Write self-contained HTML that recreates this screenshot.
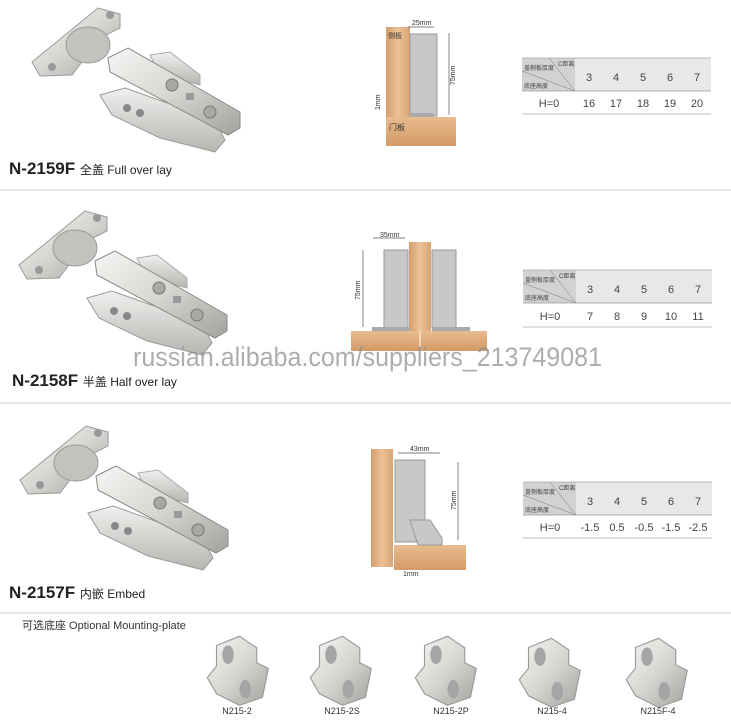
<!DOCTYPE html>
<html><head><meta charset="utf-8"><style>
html,body{margin:0;padding:0;background:#fff;}
svg{display:block;}
text{font-family:"Liberation Sans","Noto Sans CJK SC",sans-serif;}
</style></head><body>
<svg width="731" height="720" viewBox="0 0 731 720" xmlns="http://www.w3.org/2000/svg">
<defs>
<linearGradient id="met" x1="0" y1="0" x2="1" y2="1">
<stop offset="0" stop-color="#f6f6f4"/><stop offset="0.5" stop-color="#d6d6d3"/><stop offset="1" stop-color="#a2a29f"/></linearGradient>
<linearGradient id="met2" x1="0" y1="0" x2="0" y2="1">
<stop offset="0" stop-color="#f0f0ee"/><stop offset="1" stop-color="#b5b5b2"/></linearGradient>
<linearGradient id="wood" x1="0" y1="0" x2="1" y2="0">
<stop offset="0" stop-color="#d59d6a"/><stop offset="0.5" stop-color="#ecc398"/><stop offset="1" stop-color="#d8a373"/></linearGradient>
<linearGradient id="woodh" x1="0" y1="0" x2="0" y2="1">
<stop offset="0" stop-color="#e8bb8e"/><stop offset="1" stop-color="#d39a66"/></linearGradient>
<g id="hinge">
<polygon points="100,95 125,88 215,120 225,140 215,152 160,138 112,115" fill="url(#met2)" stroke="#9a9a96" stroke-width="1"/>
<circle cx="127" cy="108" r="4" fill="#888"/><circle cx="140" cy="113" r="4" fill="#888"/>
<polygon points="150,55 170,52 200,75 200,85 160,75" fill="url(#met2)" stroke="#aaa" stroke-width="1"/>
<polygon points="32,62 98,8 120,14 120,28 100,38 72,75 40,76" fill="url(#met)" stroke="#9a9a96" stroke-width="1"/>
<ellipse cx="88" cy="45" rx="22" ry="18" fill="#c2c2bf" stroke="#999"/>
<circle cx="52" cy="67" r="4" fill="#999"/><circle cx="110" cy="15" r="4" fill="#999"/>
<polygon points="108,58 128,48 240,112 240,128 228,135 110,72" fill="url(#met)" stroke="#8a8a86" stroke-width="1"/>
<circle cx="172" cy="85" r="6" fill="#a8a8a5" stroke="#777"/><circle cx="210" cy="112" r="6" fill="#a8a8a5" stroke="#777"/>
<rect x="186" y="93" width="8" height="7" fill="#999"/>
</g>
<g id="plate">
<polygon points="10,10 30,2 45,12 45,25 55,30 50,55 30,62 10,52 2,38 10,28" fill="url(#met)" stroke="#9a9a96"/>
<ellipse cx="20" cy="18" rx="5" ry="8" fill="#a5a5a5"/><ellipse cx="35" cy="48" rx="5" ry="8" fill="#a5a5a5"/>
</g>
</defs>

<rect x="0" y="189" width="731" height="2" fill="#e6e6e6"/>
<rect x="0" y="402" width="731" height="2" fill="#e6e6e6"/>
<rect x="0" y="612" width="731" height="2" fill="#e6e6e6"/>

<use href="#hinge" x="0" y="0"/>
<use href="#hinge" x="-13" y="203"/>
<use href="#hinge" x="-12" y="418"/>

<text x="9" y="174" font-size="17" font-weight="bold" fill="#222">N-2159F <tspan font-size="12" font-weight="normal">全盖 Full over lay</tspan></text>
<text x="12" y="386" font-size="17" font-weight="bold" fill="#222">N-2158F <tspan font-size="12" font-weight="normal">半盖 Half over lay</tspan></text>
<text x="9" y="598" font-size="17" font-weight="bold" fill="#222">N-2157F <tspan font-size="12" font-weight="normal">内嵌 Embed</tspan></text>

<!-- diagram 1 -->
<rect x="386" y="27" width="24" height="90" fill="url(#wood)"/>
<rect x="386" y="117" width="70" height="29" fill="url(#woodh)"/>
<rect x="410" y="34" width="27" height="82" fill="#c8c8c8" stroke="#999"/>
<rect x="410" y="113" width="24" height="4" fill="#aaa"/>
<text x="388" y="38" font-size="7" fill="#333">侧板</text>
<text x="389" y="130" font-size="8" fill="#333">门板</text>
<line x1="408" y1="27" x2="434" y2="27" stroke="#555" stroke-width="0.7"/>
<text x="412" y="25" font-size="7" fill="#333">25mm</text>
<line x1="449" y1="33" x2="449" y2="115" stroke="#555" stroke-width="0.7"/>
<text x="455" y="85" font-size="7" fill="#333" transform="rotate(-90 455 85)">75mm</text>
<text x="380" y="110" font-size="7" fill="#333" transform="rotate(-90 380 110)">1mm</text>

<!-- diagram 2 -->
<rect x="409" y="242" width="22" height="90" fill="url(#wood)"/>
<rect x="351" y="331" width="83" height="20" fill="url(#woodh)"/>
<rect x="420" y="331" width="67" height="20" fill="url(#woodh)"/>
<line x1="420" y1="331" x2="420" y2="351" stroke="#fff"/>
<rect x="384" y="250" width="24" height="78" fill="#c8c8c8" stroke="#999"/>
<rect x="432" y="250" width="24" height="78" fill="#c8c8c8" stroke="#999"/>
<rect x="372" y="327" width="38" height="4" fill="#aaa"/>
<rect x="432" y="327" width="38" height="4" fill="#aaa"/>
<line x1="373" y1="238" x2="405" y2="238" stroke="#555" stroke-width="0.7"/>
<text x="380" y="237" font-size="7" fill="#333">35mm</text>
<line x1="363" y1="250" x2="363" y2="327" stroke="#555" stroke-width="0.7"/>
<text x="360" y="300" font-size="7" fill="#333" transform="rotate(-90 360 300)">75mm</text>

<!-- diagram 3 -->
<rect x="371" y="449" width="22" height="118" fill="url(#wood)"/>
<rect x="394" y="545" width="72" height="25" fill="url(#woodh)"/>
<rect x="395" y="460" width="30" height="82" fill="#c8c8c8" stroke="#999"/>
<polygon points="410,520 430,520 442,538 442,545 418,545" fill="#c8c8c8" stroke="#999"/>
<line x1="398" y1="453" x2="440" y2="453" stroke="#555" stroke-width="0.7"/>
<text x="410" y="451" font-size="7" fill="#333">43mm</text>
<line x1="458" y1="462" x2="458" y2="540" stroke="#555" stroke-width="0.7"/>
<text x="456" y="510" font-size="7" fill="#333" transform="rotate(-90 456 510)">75mm</text>
<text x="403" y="576" font-size="7" fill="#333">1mm</text>

<!-- tables -->
<g>
<rect x="522" y="58" width="189" height="33" fill="#e8e8e8"/>
<rect x="522" y="58" width="53" height="33" fill="#d2d2d2"/>
<line x1="522" y1="58" x2="711" y2="58" stroke="#aaa" stroke-width="0.7"/>
<line x1="522" y1="91" x2="711" y2="91" stroke="#999" stroke-width="0.8"/>
<line x1="522" y1="114" x2="711" y2="114" stroke="#aaa" stroke-width="0.7"/>
<line x1="549" y1="58" x2="575" y2="91" stroke="#777" stroke-width="0.5"/>
<line x1="522" y1="71" x2="575" y2="91" stroke="#777" stroke-width="0.5"/>
<text x="524" y="88" font-size="6" fill="#444">底座高度</text>
<text x="524" y="70" font-size="6" fill="#444">盖侧板厚度</text>
<text x="558" y="66" font-size="6" fill="#444">C距离</text>
<g font-size="11" fill="#444" text-anchor="middle"><text x="589" y="81">3</text><text x="616" y="81">4</text><text x="643" y="81">5</text><text x="670" y="81">6</text><text x="697" y="81">7</text>
<text x="549" y="107">H=0</text><text x="589" y="107">16</text><text x="616" y="107">17</text><text x="643" y="107">18</text><text x="670" y="107">19</text><text x="697" y="107">20</text></g>
</g>
<g transform="translate(1,212)">
<rect x="522" y="58" width="189" height="33" fill="#e8e8e8"/>
<rect x="522" y="58" width="53" height="33" fill="#d2d2d2"/>
<line x1="522" y1="58" x2="711" y2="58" stroke="#aaa" stroke-width="0.7"/>
<line x1="522" y1="91" x2="711" y2="91" stroke="#999" stroke-width="0.8"/>
<line x1="522" y1="115" x2="711" y2="115" stroke="#aaa" stroke-width="0.7"/>
<line x1="549" y1="58" x2="575" y2="91" stroke="#777" stroke-width="0.5"/>
<line x1="522" y1="71" x2="575" y2="91" stroke="#777" stroke-width="0.5"/>
<text x="524" y="88" font-size="6" fill="#444">底座高度</text>
<text x="524" y="70" font-size="6" fill="#444">盖侧板厚度</text>
<text x="558" y="66" font-size="6" fill="#444">C距离</text>
<g font-size="11" fill="#444" text-anchor="middle"><text x="589" y="81">3</text><text x="616" y="81">4</text><text x="643" y="81">5</text><text x="670" y="81">6</text><text x="697" y="81">7</text>
<text x="549" y="108">H=0</text><text x="589" y="108">7</text><text x="616" y="108">8</text><text x="643" y="108">9</text><text x="670" y="108">10</text><text x="697" y="108">11</text></g>
</g>
<g transform="translate(1,424)">
<rect x="522" y="58" width="189" height="33" fill="#e8e8e8"/>
<rect x="522" y="58" width="53" height="33" fill="#d2d2d2"/>
<line x1="522" y1="58" x2="711" y2="58" stroke="#aaa" stroke-width="0.7"/>
<line x1="522" y1="91" x2="711" y2="91" stroke="#999" stroke-width="0.8"/>
<line x1="522" y1="114" x2="711" y2="114" stroke="#aaa" stroke-width="0.7"/>
<line x1="549" y1="58" x2="575" y2="91" stroke="#777" stroke-width="0.5"/>
<line x1="522" y1="71" x2="575" y2="91" stroke="#777" stroke-width="0.5"/>
<text x="524" y="88" font-size="6" fill="#444">底座高度</text>
<text x="524" y="70" font-size="6" fill="#444">盖侧板厚度</text>
<text x="558" y="66" font-size="6" fill="#444">C距离</text>
<g font-size="11" fill="#444" text-anchor="middle"><text x="589" y="81">3</text><text x="616" y="81">4</text><text x="643" y="81">5</text><text x="670" y="81">6</text><text x="697" y="81">7</text>
<text x="549" y="107">H=0</text><text x="589" y="107">-1.5</text><text x="616" y="107">0.5</text><text x="643" y="107">-0.5</text><text x="670" y="107">-1.5</text><text x="697" y="107">-2.5</text></g>
</g>

<!-- mounting plates -->
<text x="22" y="629" font-size="11" fill="#333">可选底座  Optional Mounting-plate</text>
<use href="#plate" transform="translate(205,634) scale(1.15)"/>
<use href="#plate" transform="translate(308,634) scale(1.15)"/>
<use href="#plate" transform="translate(413,634) scale(1.15)"/>
<use href="#plate" transform="translate(517,636) scale(1.15)"/>
<use href="#plate" transform="translate(624,636) scale(1.15)"/>
<g font-size="9" fill="#333" text-anchor="middle">
<text x="237" y="714">N215-2</text><text x="342" y="714">N215-2S</text><text x="451" y="714">N215-2P</text><text x="552" y="714">N215-4</text><text x="658" y="714">N215F-4</text></g>

<text x="133" y="366" font-size="27" fill="#8a8a8a" fill-opacity="0.7" textLength="469" lengthAdjust="spacingAndGlyphs">russian.alibaba.com/suppliers_213749081</text>
</svg>
</body></html>
